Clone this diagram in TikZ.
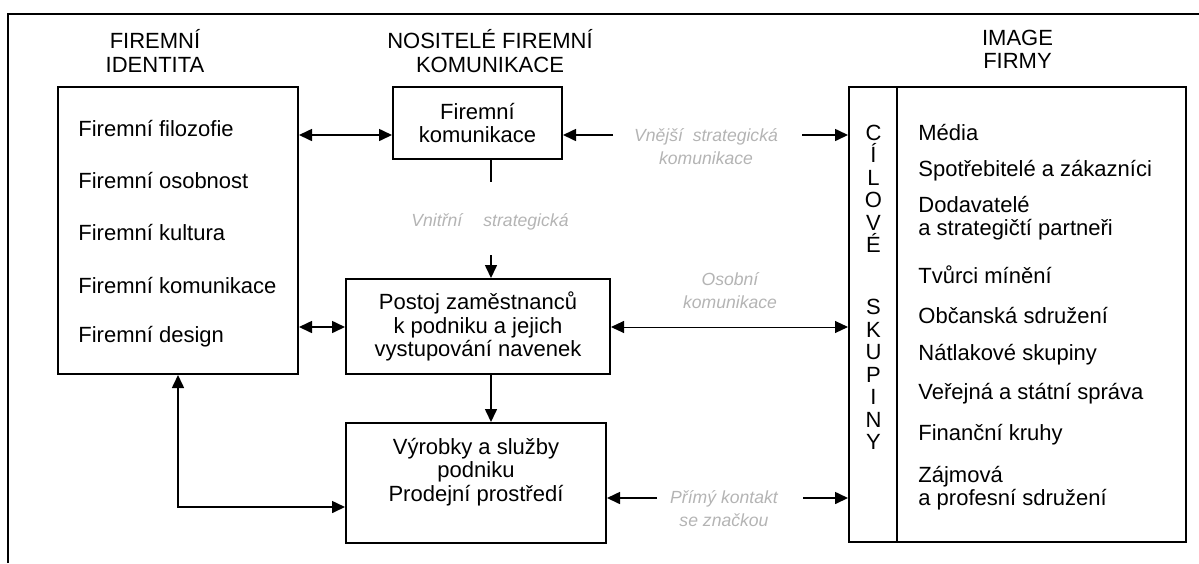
\documentclass[tikz,border=0pt]{standalone}
\usepackage{fontspec}
\setmainfont{Liberation Sans}
\usetikzlibrary{arrows.meta, positioning, calc}
\definecolor{faded}{HTML}{B4B4B4}

\begin{document}
\begin{tikzpicture}[
    x=0.5pt, y=-0.5pt,
    every node/.style={font=\fontsize{11}{11.75}\selectfont},
    box/.style={rectangle, draw, line width=1pt, inner sep=0pt, align=center},
    head/.style={align=center, inner sep=0pt},
    item/.style={anchor=west, align=left, inner sep=0pt, font=\fontsize{11}{11.25}\selectfont},
    note/.style={align=center, inner sep=0pt, text=faded, font=\fontsize{8.8}{11.5}\selectfont\itshape},
    arr/.style={-{Triangle[length=6.5pt, width=6pt]}, line width=0.8pt},
    darr/.style={{Triangle[length=6.5pt, width=6pt]}-{Triangle[length=6.5pt, width=6pt]}, line width=0.8pt},
    tarr/.style={darr, line width=0.5pt}
  ]
  \useasboundingbox (0,0) rectangle (1199,563);
  \draw[line width=1pt] (8,563) -- (8,14) -- (1199,14);

  % boxes
  \node[box, minimum width=120pt, minimum height=143.5pt] (ident) at (178,230.5) {};
  \node[box, minimum width=84.5pt, minimum height=36pt] (kom) at (477.5,123) {Firemní\\komunikace};
  \node[box, minimum width=132pt, minimum height=47.5pt] (post) at (478,326.5)
    {Postoj zaměstnanců\\k podniku a jejich\\vystupování navenek};
  \node[box, minimum width=130pt, minimum height=60pt] (vyr) at (476,483) {};
  \node[align=center, inner sep=0pt] (vyrtxt) at (476,472) {Výrobky a služby\\podniku\\Prodejní prostředí};
  \node[box, minimum width=168.5pt, minimum height=227.5pt] (img) at (1017.5,314.5) {};
  \draw[line width=1pt] ([xshift=24.5pt]img.north west) -- ([xshift=24.5pt]img.south west);

  % headings
  \node[head] (hid) at (155,51) {FIREMNÍ\\IDENTITA};
  \node[head] (hnos) at (490,51) {NOSITELÉ FIREMNÍ\\KOMUNIKACE};
  \node[head, above=8.5pt of img] (himg) {IMAGE\\FIRMY};

  % contents
  \foreach \t [count=\i] in {Firemní filozofie, Firemní osobnost, Firemní kultura,
      Firemní komunikace, Firemní design}
    \node[item] (fi\i) at (78,77+52*\i) {\t};
  \foreach \y/\t [count=\i] in {133/Média, 171/Spotřebitelé a zákazníci,
      218/{Dodavatelé\\a strategičtí partneři}, 275/Tvůrci mínění,
      315/Občanská sdružení, 355/Nátlakové skupiny, 394/Veřejná a státní správa,
      435/Finanční kruhy, 488/{Zájmová\\a profesní sdružení}}
    \node[item] (sk\i) at (918,\y) {\t};
  \node[align=center, inner sep=0pt, font=\fontsize{11}{11.25}\selectfont] (cil) at (873.5,189)
    {C\\Í\\L\\O\\V\\É};
  \node[align=center, inner sep=0pt, font=\fontsize{11}{11.25}\selectfont] (skup) at (873.5,374.5)
    {S\\K\\U\\P\\I\\N\\Y};

  % notes
  \node[note] (nvne) at (706,147) {Vnější\ \ strategická\\komunikace};
  \node[note] (nvni) at (490,222) {Vnitřní\hspace{1.2em}strategická};
  \node[note] (nos) at (730,291) {Osobní\\komunikace};
  \node[note] (npk) at (724,509) {Přímý kontakt\\se značkou};

  % connectors
  \coordinate (r1) at (0,135);
  \coordinate (r2) at (0,327);
  \coordinate (vne) at (613,135);
  \coordinate (vne2) at (802,135);
  \coordinate (vni) at (491,182);
  \coordinate (vni2) at (491,255);
  \coordinate (kr) at (178,507);
  \coordinate (pk) at (657,498);
  \coordinate (pk2) at (803,498);
  \draw[darr] (ident.east |- r1) -- (kom.west |- r1);
  \draw[arr] (vne) -- (kom.east |- vne);
  \draw[arr] (vne2) -- (img.west |- vne2);
  \draw[line width=0.8pt] (vni |- kom.south) -- (vni);
  \draw[arr] (vni2) -- (vni2 |- post.north);
  \draw[darr] (ident.east |- r2) -- (post.west |- r2);
  \draw[tarr] (post.east |- r2) -- (img.west |- r2);
  \draw[arr] (vni |- post.south) -- (vni |- vyr.north);
  \draw[darr] (vyr.west |- kr) -| (ident.south);
  \draw[arr] (pk) -- (vyr.east |- pk);
  \draw[arr] (pk2) -- (img.west |- pk2);
\end{tikzpicture}
\end{document}
